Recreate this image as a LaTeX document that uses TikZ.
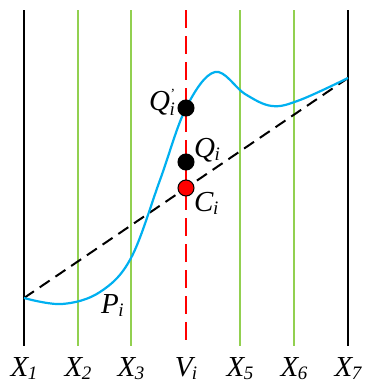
\documentclass[tikz,border=0pt]{standalone}
\usepackage{fontspec}
\setmainfont{Liberation Serif}
\usepackage{xcolor}
\definecolor{gridgreen}{HTML}{92D050}
\definecolor{curveblue}{HTML}{00B0F0}
\usetikzlibrary{positioning}
\newcommand{\lbl}[2]{\textit{#1\kern-0.5pt\raisebox{-3pt}{\fontsize{19}{19}\selectfont #2}}}

\begin{document}
\begin{tikzpicture}[x=1pt, y=-1pt,
      bound/.style={draw=black, line width=2.7pt},
      inner/.style={draw=gridgreen, line width=2.7pt},
      axis/.style={draw=red, line width=2.4pt, dash pattern=on 18pt off 8pt},
      chord/.style={draw=black, line width=2pt, dash pattern=on 12pt off 7pt},
      curve/.style={draw=curveblue, line width=2.2pt},
      pt/.style={circle, draw=black, line width=1pt, fill=black, minimum size=16pt, inner sep=0pt},
      ptred/.style={pt, fill=red},
      tag/.style={font=\fontsize{29}{33}\selectfont, inner sep=0pt}
    ]
    \useasboundingbox (0,0) rectangle (367,383);
    % vertical lines
    \foreach \n/\x/\s in {1/24/bound,2/78/inner,3/131/inner,4/186/axis,5/240/inner,6/294/inner,7/348/bound} {
      \coordinate (t\n) at (\x,10);
      \coordinate (b\n) at (\x,346);
      \draw[\s] (t\n) -- (b\n);
    }
    % labels below
    \foreach \n/\x/\t in {1/24/X,2/78/X,3/131/X,5/240/X,6/294/X,7/348/X} {
      \node[tag, anchor=base] (x\n) at (\x,376) {\lbl{\t}{\n}};
    }
    \node[tag, anchor=base] (vi) at (186,376) {\lbl{V}{i}};
    % chord and curve
    \coordinate (s) at (24,298);
    \coordinate (e) at (348,78);
    \draw[chord] (s) -- (e);
    \draw[curve] plot[smooth, tension=0.6] coordinates {(24,298) (62,304) (100,292) (131,258) (160,180) (186,108) (215,72) (245,94) (272,106) (300,100) (348,78)};
    % points
    \node[pt] (qp) at (186,108) {};
    \node[pt] (q) at (186,162) {};
    \node[ptred] (c) at (186,188) {};
    \node[tag, anchor=base east] (qpl) at (175,110) {\textit{Q\kern-0.5pt\rlap{\raisebox{12pt}{\fontsize{14}{14}\selectfont '}}\raisebox{-5pt}{\fontsize{19}{19}\selectfont i}}};
    \node[tag, anchor=base west] (ql) at (194,157) {\lbl{Q}{i}};
    \node[tag, anchor=base west] (cl) at (194,211) {\lbl{C}{i}};
    \node[tag, anchor=base west] (pl) at (101,313) {\lbl{P}{i}};
\end{tikzpicture}
\end{document}
